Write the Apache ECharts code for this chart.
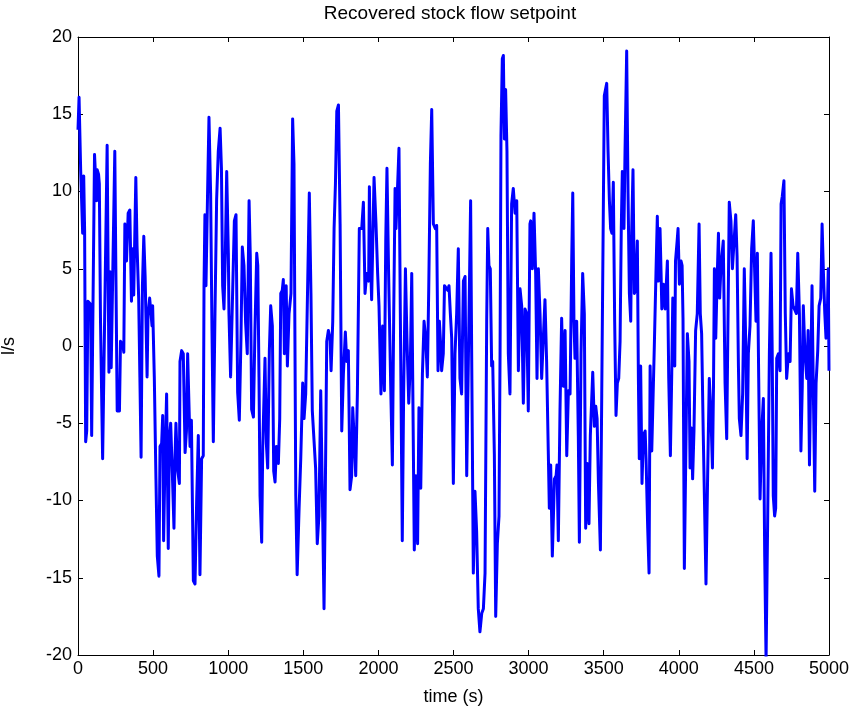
<!DOCTYPE html>
<html>
<head>
<meta charset="utf-8">
<script src="https://cdn.jsdelivr.net/npm/echarts@6/dist/echarts.min.js"></script>
<style>
  html, body { margin: 0; padding: 0; background: #fff; }
  #chart { width: 857px; height: 711px; }
</style>
</head>
<body>
<div id="chart"></div>
<script>
// time (s) and recovered flow setpoint (l/s)
const timeSec = [
  0, 7, 18, 27, 31, 38, 44, 51, 58, 66, 84, 91, 110, 119, 124, 128, 137, 142, 150, 164,
  194, 206, 214, 221, 245, 252, 261, 276, 283, 298, 305, 312, 323, 334, 345, 356, 365, 371, 385, 393,
  404, 412, 420, 429, 438, 447, 460, 466, 477, 493, 497, 508, 519, 528, 539, 546, 557, 564, 570, 579,
  590, 601, 608, 617, 628, 639, 645, 652, 663, 675, 679, 690, 701, 713, 722, 730, 739, 746, 755, 768,
  779, 790, 801, 812, 823, 834, 839, 845, 852, 862, 872, 883, 892, 901, 912, 923, 934, 946, 955, 963,
  972, 981, 990, 996, 1001, 1005, 1016, 1028, 1041, 1052, 1063, 1074, 1085, 1094, 1105, 1116, 1127, 1139, 1147, 1156,
  1168, 1178, 1190, 1197, 1205, 1212, 1223, 1230, 1240, 1245, 1254, 1263, 1274, 1283, 1294, 1303, 1312, 1321, 1334, 1343,
  1350, 1360, 1367, 1374, 1386, 1394, 1405, 1418, 1429, 1438, 1450, 1459, 1472, 1483, 1496, 1505, 1516, 1527, 1540, 1551,
  1560, 1571, 1582, 1593, 1604, 1616, 1625, 1638, 1645, 1656, 1667, 1678, 1685, 1696, 1705, 1714, 1723, 1734, 1745, 1756,
  1767, 1780, 1789, 1800, 1811, 1822, 1829, 1838, 1849, 1860, 1873, 1889, 1900, 1911, 1922, 1935, 1940, 1946, 1955, 1971,
  1984, 1995, 2004, 2017, 2028, 2040, 2049, 2057, 2068, 2083, 2093, 2102, 2111, 2117, 2126, 2137, 2146, 2159, 2168, 2180,
  2190, 2202, 2213, 2222, 2233, 2239, 2250, 2261, 2270, 2282, 2293, 2304, 2315, 2326, 2335, 2346, 2355, 2366, 2379, 2388,
  2397, 2406, 2415, 2421, 2432, 2440, 2448, 2462, 2470, 2479, 2488, 2499, 2510, 2521, 2532, 2543, 2554, 2566, 2577, 2588,
  2600, 2614, 2621, 2632, 2643, 2654, 2665, 2676, 2688, 2699, 2710, 2721, 2728, 2736, 2745, 2754, 2761, 2772, 2781, 2792,
  2803, 2810, 2816, 2825, 2832, 2839, 2847, 2856, 2865, 2876, 2887, 2898, 2910, 2921, 2932, 2943, 2954, 2965, 2976, 2987,
  2998, 3009, 3014, 3025, 3036, 3047, 3056, 3065, 3076, 3087, 3098, 3109, 3120, 3131, 3138, 3147, 3158, 3172, 3183, 3189,
  3198, 3209, 3220, 3231, 3243, 3254, 3265, 3276, 3287, 3294, 3302, 3309, 3320, 3331, 3338, 3349, 3360, 3371, 3380, 3391,
  3402, 3411, 3427, 3438, 3447, 3456, 3465, 3478, 3487, 3504, 3520, 3529, 3538, 3546, 3555, 3564, 3573, 3582, 3591, 3600,
  3609, 3617, 3624, 3635, 3642, 3653, 3662, 3671, 3680, 3686, 3695, 3704, 3713, 3724, 3731, 3737, 3746, 3755, 3764, 3776,
  3782, 3793, 3802, 3809, 3820, 3831, 3837, 3848, 3857, 3864, 3875, 3882, 3887, 3898, 3909, 3924, 3933, 3944, 3953, 3960,
  3969, 3973, 3978, 3989, 3995, 4004, 4015, 4022, 4028, 4037, 4048, 4057, 4068, 4075, 4085, 4092, 4101, 4112, 4123, 4135,
  4143, 4152, 4163, 4181, 4192, 4203, 4214, 4224, 4231, 4237, 4246, 4255, 4264, 4272, 4281, 4296, 4308, 4319, 4328, 4336,
  4347, 4357, 4368, 4379, 4388, 4397, 4403, 4414, 4425, 4436, 4445, 4455, 4463, 4474, 4485, 4496, 4505, 4514, 4523, 4532,
  4541, 4552, 4563, 4572, 4581, 4592, 4603, 4614, 4622, 4629, 4638, 4645, 4652, 4663, 4674, 4681, 4689, 4700, 4709, 4718,
  4730, 4741, 4750, 4761, 4772, 4783, 4792, 4803, 4813, 4822, 4829, 4840, 4852, 4861, 4870, 4878, 4887, 4896, 4905, 4914,
  4925, 4934, 4945, 4954, 4963, 4972, 4980, 4989, 4995, 5000
];
const flowLps = [
  14, 16.1, 11.3, 11.3, 7.3, 11, 7.5, -6.2, -5.5, 2.9, 2.7, -5.8, 12.4, 10.5, 9.4, 11.4, 11.1, 10.5, 1.5, -7.3,
  13.0, -1.7, 4.8, -1.4, 12.6, 5, -4.2, -4.2, 0.3, 0.1, -0.4, 7.9, 5.5, 8.6, 8.8, 2.9, 6.3, 3.3, 10.9, 6.5,
  3.1, -2, -7.2, 3.9, 7.1, 4.5, -2.0, 2, 3.1, 1.3, 2.6, -2, -8.6, -13.6, -14.9, -6.5, -6.3, -4.5, -12.6, -7.5,
  -3.1, -13.1, -6, -5.0, -8.2, -11.8, -7.5, -5.0, -8, -8.9, -1.0, -0.3, -0.5, -6.9, -5.5, -0.5, -0.5, -6.5, -4.8, -15.2,
  -15.4, -10, -5.8, -14.8, -7.3, -7.1, 3.9, 8.5, 3.9, 9.5, 14.8, 9.9, 1.0, -6.2, 2.1, 9.5, 12.6, 14.1, 11.5, 3.9,
  2.4, 6.0, 11.3, 11.2, 6, 2.1, -2.0, -2.1, 8.1, 8.5, -3, -4.8, 0.5, 6.4, 5.2, 1.5, -0.5, 9.4, 5.8, -4.1,
  -4.6, 1.0, 6.0, 5.2, -2, -9.7, -12.7, -6.5, -6.5, -0.8, -6.3, -7.9, -0.3, 2.6, 1.3, -8.1, -8.8, -6.5, -7.6, -4.7,
  3.4, 3.6, 4.3, -0.5, 3.9, -1.3, 2.1, 3.4, 14.7, 11.8, -9.7, -14.8, -10.5, -7.3, -2.4, -4.7, -3.1, -3.1, 9.9, 3.4,
  -4.2, -4.3, -7.9, -12.8, -11, -2.9, -8.4, -17.0, -11, 0.3, 1.0, 0.5, -1.6, 1.6, 7.6, 10.5, 15.2, 15.6, 7.9, -5.5,
  -1.8, 0.9, -1, -0.3, -9.3, -8.4, -4, -5.8, -8.4, -3.1, 7.6, 7.6, 9.3, 3.4, 4.7, 4.2, 10.3, 6, 3.0, 10.9,
  7.9, 4.7, 2.6, -3.1, 1.3, -2.9, 6.9, 11.5, 4.7, -3.1, -7.7, 2.1, 10.2, 7.6, 9.9, 12.8, 2.1, -12.6, -3.1, 5.0,
  0.5, -3.7, -1.0, 4.7, 4.7, -13.2, -8.4, -12.8, -4.0, -9.2, -1.8, 1.6, 0.5, -2.0, 3.6, 11.8, 15.3, 7.9, 7.6, 7.8,
  -1.6, 1.6, 0, -1.6, -0.5, 3.9, 4.0, 3.6, 3.9, 2.1, 0.5, -8.9, -0.5, 2.1, 6.3, -2.1, -3.1, 4.2, 4.5, -8.4,
  -8.4, 9.4, -0.5, -14.7, -9.4, -12.0, -17.0, -18.5, -17.3, -17.0, -14.7, 1.6, 7.6, 5.2, 5.0, -1.3, -1.0, -7, -17.5, -12.8,
  -11, -0.5, 13.6, 18.6, 18.8, 13.4, 16.6, 12.6, -0.5, -3.1, 9.2, 10.2, 8.6, 9.4, -1.6, 3.7, 2.6, -3.7, 2.4, 2.1,
  -4.2, 7.9, 8.1, 5.0, 8.6, 4.7, -2.1, 5.0, 2.1, -2.1, 0.5, 3.0, -1.0, -6.8, -10.5, -7.7, -13.6, -8.6, -8.4, -7.7,
  -12.6, -4.2, 1.8, -2.6, 1.0, -7.1, -2.9, -3.1, 5.5, 9.9, 1.6, -0.8, 1.6, -5.8, -12.7, -0.5, 4.7, 2.1, -11.8, -7.6,
  -11.5, -5.8, -1.7, -5.2, -3.9, -4.7, -8.9, -13.2, -3.1, 16.2, 17.0, 12.6, 9.4, 7.6, 7.3, 10.6, 1.6, -4.5, -2.4, -2.1,
  0.3, 7.6, 11.3, 7.6, 12.6, 19.1, 9.9, 3.4, 1.6, 7.3, 11.4, 3.4, 3.6, 6.8, -2.1, -7.3, -1.3, -8.9, -5.8, -5.5,
  -7.3, -11.8, -14.7, -1.3, -6.8, -6.8, 0, 4.7, 8.4, 4.2, 7.6, 4.7, 2.4, 4.0, 2.4, 5.5, -2.1, -7.1, -1.8, 3.1,
  3.1, -1.3, 5.5, 6.8, 7.6, 4.0, 5.5, 5.2, 1.8, -14.4, -6, 0.8, -1.0, -7.9, -5.3, -8.6, -5.5, 1.0, 2.1, 7.9,
  2.1, 0.8, -5.8, -15.4, -8.4, -2.1, -4.5, -7.9, -2.6, 5.0, 0.5, 4.2, 7.3, 3.1, 5.2, 6.8, -2.4, -6.0, 2.1, 9.3,
  8.1, 5.0, 6.8, 8.5, 5.8, -1.3, -4.7, -5.8, -3.1, 5.0, 0.5, -7.3, -0.5, 1.3, 6.3, 8.1, 8.1, 1.6, 6.0, -2.1,
  -9.9, -5.5, -3.4, -13.6, -20.3, -11, -0.5, 6.0, -0.5, -9.7, -11.0, -10.5, -0.8, -0.5, -1.6, 9.2, 9.7, 10.7, 2.1, -2.1,
  -0.5, -1.0, 3.7, 2.6, 2.6, 2.1, 6.0, 2.1, -6.8, -2.6, 2.6, -0.5, -2.1, 1.0, -7.7, -2.1, 3.9, -3.1, -9.4, -2.4,
  -0.3, 2.6, 3.1, 7.9, 4.7, 2.1, 0.5, 2.1, 5.0, -1.6
];
const xTicks = [0, 500, 1000, 1500, 2000, 2500, 3000, 3500, 4000, 4500, 5000];
const yTicks = [-20, -15, -10, -5, 0, 5, 10, 15, 20];

const chart = echarts.init(document.getElementById('chart'));

const font = '"Liberation Sans", Arial, sans-serif';
const axisLine = { show: true, onZero: false, lineStyle: { color: '#000', width: 1 } };
const tickStyle = { show: true, inside: true, length: 5, lineStyle: { color: '#000', width: 1 } };

const xBase = {
  type: 'value',
  min: xTicks[0],
  max: xTicks[xTicks.length - 1],
  interval: xTicks[1] - xTicks[0],
  axisLine: axisLine,
  axisTick: tickStyle,
  splitLine: { show: false }
};
const yBase = {
  type: 'value',
  min: yTicks[0],
  max: yTicks[yTicks.length - 1],
  interval: yTicks[1] - yTicks[0],
  axisLine: axisLine,
  axisTick: tickStyle,
  splitLine: { show: false }
};

const option = {
  animation: false,
  backgroundColor: '#fff',
  grid: { left: 78, right: 28, top: 37, bottom: 56, containLabel: false, outerBoundsMode: 'none' },
  xAxis: [
    Object.assign({}, xBase, {
      position: 'bottom',
      name: 'time (s)',
      nameLocation: 'middle',
      nameGap: 33,
      nameTextStyle: { color: '#000', fontFamily: font, fontSize: 18 },
      axisLabel: {
        color: '#000', fontFamily: font, fontSize: 18, margin: 5,
        showMinLabel: true, showMaxLabel: true, hideOverlap: false,
        formatter: (v) => String(v)
      }
    }),
    Object.assign({}, xBase, { position: 'top', axisLabel: { show: false } })
  ],
  yAxis: [
    Object.assign({}, yBase, {
      position: 'left',
      name: 'l/s',
      nameLocation: 'middle',
      nameGap: 60,
      nameRotate: 90,
      nameTextStyle: { color: '#000', fontFamily: font, fontSize: 18 },
      axisLabel: {
        color: '#000', fontFamily: font, fontSize: 18, margin: 6,
        showMinLabel: true, showMaxLabel: true, hideOverlap: false,
        formatter: (v) => String(v)
      }
    }),
    Object.assign({}, yBase, { position: 'right', axisLabel: { show: false } })
  ],
  graphic: [{
    type: 'text',
    x: 450,
    y: 14,
    style: {
      text: 'Recovered stock flow setpoint',
      font: '19px ' + font,
      fill: '#000',
      align: 'center',
      verticalAlign: 'middle',
      textAlign: 'center',
      textVerticalAlign: 'middle'
    }
  }],
  series: [{
    type: 'line',
    xAxisIndex: 0,
    yAxisIndex: 0,
    showSymbol: false,
    clip: true,
    data: timeSec.map((t, i) => [t, flowLps[i]]),
    lineStyle: { color: '#0000ff', width: 3, join: 'round' }
  }]
};

chart.setOption(option);
</script>
</body>
</html>
